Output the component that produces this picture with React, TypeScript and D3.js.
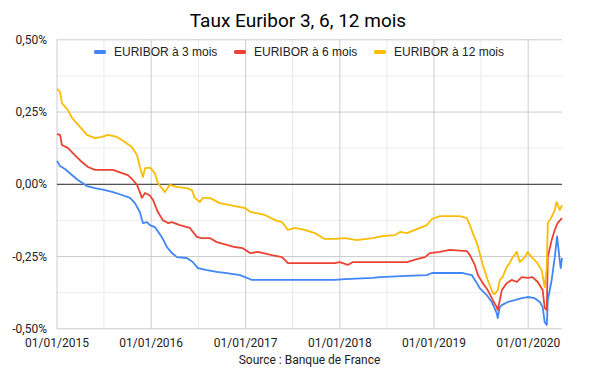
import React from "react";
import * as d3 from "d3";

// Euribor rates (%), [date, value]
const euribor3m: [string, number][] = [
  ["2015-01-01", 0.081], ["2015-01-13", 0.063], ["2015-02-01", 0.053], ["2015-02-28", 0.032],
  ["2015-03-23", 0.015], ["2015-04-27", -0.006], ["2015-05-28", -0.013], ["2015-07-06", -0.02],
  ["2015-08-06", -0.027], ["2015-09-10", -0.037], ["2015-10-11", -0.047], ["2015-10-30", -0.065],
  ["2015-11-18", -0.096], ["2015-11-30", -0.134], ["2015-12-16", -0.131], ["2015-12-27", -0.141],
  ["2016-01-15", -0.148], ["2016-02-11", -0.182], ["2016-03-02", -0.217], ["2016-03-21", -0.238],
  ["2016-04-10", -0.252], ["2016-05-18", -0.255], ["2016-06-10", -0.269], ["2016-06-30", -0.29],
  ["2016-08-04", -0.297], ["2016-09-11", -0.303], ["2016-10-20", -0.307], ["2016-12-10", -0.314],
  ["2016-12-30", -0.321], ["2017-01-26", -0.331], ["2017-04-25", -0.331], ["2017-08-18", -0.331],
  ["2017-12-13", -0.331], ["2018-01-21", -0.328], ["2018-05-09", -0.324], ["2018-06-05", -0.321],
  ["2018-09-18", -0.317], ["2018-12-04", -0.314], ["2018-12-24", -0.307], ["2019-01-23", -0.307],
  ["2019-04-23", -0.307], ["2019-05-27", -0.314], ["2019-06-16", -0.342], ["2019-06-27", -0.359],
  ["2019-07-24", -0.383], ["2019-08-13", -0.407], ["2019-09-01", -0.446], ["2019-09-05", -0.463],
  ["2019-09-13", -0.425], ["2019-09-21", -0.418], ["2019-10-14", -0.407], ["2019-11-10", -0.401],
  ["2019-12-07", -0.394], ["2019-12-30", -0.39], ["2020-01-26", -0.394], ["2020-02-15", -0.407],
  ["2020-02-26", -0.425], ["2020-03-05", -0.477], ["2020-03-13", -0.487], ["2020-03-17", -0.401],
  ["2020-04-01", -0.331], ["2020-04-13", -0.252], ["2020-04-22", -0.18], ["2020-05-02", -0.262],
  ["2020-05-06", -0.29], ["2020-05-11", -0.255],
];

const euribor6m: [string, number][] = [
  ["2015-01-01", 0.174], ["2015-01-13", 0.171], ["2015-01-20", 0.136], ["2015-02-12", 0.126],
  ["2015-03-11", 0.101], ["2015-04-08", 0.077], ["2015-05-01", 0.06], ["2015-05-28", 0.05],
  ["2015-08-06", 0.05], ["2015-09-10", 0.039], ["2015-10-03", 0.032], ["2015-10-22", 0.015],
  ["2015-11-07", -0.002], ["2015-11-18", -0.027], ["2015-11-26", -0.047], ["2015-12-08", -0.03],
  ["2015-12-27", -0.039], ["2016-01-08", -0.054], ["2016-01-27", -0.096], ["2016-02-15", -0.124],
  ["2016-03-06", -0.134], ["2016-03-21", -0.131], ["2016-04-21", -0.141], ["2016-05-30", -0.151],
  ["2016-06-26", -0.182], ["2016-07-15", -0.186], ["2016-08-15", -0.186], ["2016-09-11", -0.2],
  ["2016-10-20", -0.21], ["2016-11-20", -0.217], ["2016-12-21", -0.221], ["2017-01-18", -0.238],
  ["2017-02-18", -0.234], ["2017-04-13", -0.245], ["2017-05-22", -0.252], ["2017-06-14", -0.273],
  ["2017-12-13", -0.273], ["2018-01-01", -0.269], ["2018-02-01", -0.279], ["2018-02-21", -0.269],
  ["2018-09-18", -0.269], ["2018-10-26", -0.259], ["2018-11-27", -0.252], ["2018-12-16", -0.238],
  ["2019-01-23", -0.234], ["2019-03-03", -0.227], ["2019-05-08", -0.231], ["2019-05-20", -0.245],
  ["2019-06-08", -0.279], ["2019-06-20", -0.314], ["2019-07-09", -0.342], ["2019-07-28", -0.366],
  ["2019-08-17", -0.401], ["2019-09-01", -0.425], ["2019-09-05", -0.435], ["2019-09-13", -0.401],
  ["2019-09-21", -0.366], ["2019-10-10", -0.342], ["2019-10-29", -0.331], ["2019-11-18", -0.338],
  ["2019-12-07", -0.321], ["2019-12-30", -0.324], ["2020-01-18", -0.321], ["2020-02-07", -0.338],
  ["2020-02-26", -0.366], ["2020-03-05", -0.428], ["2020-03-13", -0.435], ["2020-03-17", -0.252],
  ["2020-04-01", -0.193], ["2020-04-13", -0.158], ["2020-04-24", -0.134], ["2020-05-11", -0.117],
];

const euribor12m: [string, number][] = [
  ["2015-01-01", 0.33], ["2015-01-13", 0.32], ["2015-01-20", 0.281], ["2015-02-12", 0.257],
  ["2015-02-28", 0.23], ["2015-03-31", 0.199], ["2015-04-27", 0.171], ["2015-05-28", 0.16],
  ["2015-06-24", 0.164], ["2015-07-18", 0.171], ["2015-08-21", 0.164], ["2015-09-21", 0.146],
  ["2015-10-18", 0.129], ["2015-11-07", 0.101], ["2015-11-18", 0.06], ["2015-11-30", 0.025],
  ["2015-12-08", 0.056], ["2015-12-27", 0.058], ["2016-01-15", 0.039], ["2016-01-27", 0.005],
  ["2016-02-23", -0.027], ["2016-03-13", -0.002], ["2016-04-10", -0.009], ["2016-05-18", -0.013],
  ["2016-06-07", -0.02], ["2016-06-18", -0.047], ["2016-07-08", -0.061], ["2016-07-19", -0.047],
  ["2016-08-15", -0.047], ["2016-09-23", -0.065], ["2016-11-01", -0.072], ["2016-12-10", -0.079],
  ["2016-12-30", -0.082], ["2017-01-18", -0.095], ["2017-02-06", -0.099], ["2017-03-17", -0.106],
  ["2017-04-25", -0.124], ["2017-05-22", -0.131], ["2017-06-14", -0.158], ["2017-07-11", -0.151],
  ["2017-08-18", -0.158], ["2017-09-26", -0.169], ["2017-11-04", -0.189], ["2017-12-13", -0.189],
  ["2018-01-21", -0.186], ["2018-03-08", -0.193], ["2018-05-09", -0.186], ["2018-06-17", -0.179],
  ["2018-08-02", -0.176], ["2018-08-22", -0.165], ["2018-09-18", -0.169], ["2018-10-07", -0.162],
  ["2018-11-07", -0.151], ["2018-12-04", -0.141], ["2018-12-24", -0.12], ["2019-01-23", -0.11],
  ["2019-04-11", -0.11], ["2019-05-08", -0.117], ["2019-05-20", -0.141], ["2019-05-31", -0.169],
  ["2019-06-16", -0.203], ["2019-06-27", -0.238], ["2019-07-09", -0.279], ["2019-07-28", -0.331],
  ["2019-08-17", -0.376], ["2019-08-24", -0.38], ["2019-09-05", -0.366], ["2019-09-13", -0.331],
  ["2019-09-24", -0.321], ["2019-10-10", -0.286], ["2019-10-21", -0.273], ["2019-11-02", -0.252],
  ["2019-11-18", -0.234], ["2019-11-29", -0.269], ["2019-12-19", -0.252], ["2019-12-30", -0.234],
  ["2020-01-14", -0.252], ["2020-02-03", -0.269], ["2020-02-22", -0.297], ["2020-03-05", -0.356],
  ["2020-03-13", -0.286], ["2020-03-17", -0.134], ["2020-04-01", -0.113], ["2020-04-13", -0.089],
  ["2020-04-20", -0.061], ["2020-05-02", -0.089], ["2020-05-11", -0.072],
];

const seriesNames = ["EURIBOR à 3 mois", "EURIBOR à 6 mois", "EURIBOR à 12 mois"];
const seriesColors = ["#4285f4", "#ea4335", "#fbbc04"];
const yTicks = [0.5, 0.25, 0, -0.25, -0.5];
const xTickYears = [2015, 2016, 2017, 2018, 2019, 2020];

const W = 600;
const H = 371;
const margin = { left: 57, right: 38, top: 40, bottom: 42 };

const parse = d3.timeParse("%Y-%m-%d");
const fmtTick = d3.timeFormat("%d/%m/%Y");
const fmtPct = (v: number) => (v < 0 ? "-" : "") + Math.abs(v).toFixed(2).replace(".", ",") + "%";

export default function App() {
  const x = d3
    .scaleTime()
    .domain([new Date(2015, 0, 1), parse("2020-05-11")!])
    .range([margin.left, W - margin.right]);
  const y = d3.scaleLinear().domain([-0.5, 0.5]).range([H - margin.bottom - 0.2, margin.top - 0.2]);

  const line = d3
    .line<[string, number]>()
    .x((d) => x(parse(d[0])!))
    .y((d) => y(d[1]));

  const allSeries = [euribor3m, euribor6m, euribor12m];
  const minorY = d3.range(-0.375, 0.5, 0.25);
  const years = xTickYears.map((yr) => new Date(yr, 0, 1));
  const minorX = xTickYears.map((yr) => new Date(yr, 6, 2)).filter((d) => x(d) < W - margin.right);

  const legendX = [94, 234, 374];

  return (
    <svg width={W} height={H} style={{ position: "absolute", left: 0, top: 0 }}>
      <rect width={W} height={H} fill="#fff" />
      <text x={298} y={27} textAnchor="middle" fontFamily="Roboto" fontSize={19} fill="#000">
        Taux Euribor 3, 6, 12 mois
      </text>

      {/* grid */}
      {minorY.map((v) => (
        <line key={"my" + v} x1={margin.left} x2={W - margin.right} y1={y(v)} y2={y(v)} stroke="#ebebeb" />
      ))}
      {minorX.map((d, i) => (
        <line key={"mx" + i} x1={x(d)} x2={x(d)} y1={y(0.5)} y2={y(-0.5)} stroke="#ebebeb" />
      ))}
      {yTicks.map((v) => (
        <line key={"y" + v} x1={margin.left} x2={W - margin.right} y1={y(v)} y2={y(v)} stroke="#cccccc" />
      ))}
      {years.map((d, i) => (
        <line key={"x" + i} x1={x(d)} x2={x(d)} y1={y(0.5)} y2={y(-0.5)} stroke="#cccccc" />
      ))}
      <line x1={margin.left} x2={W - margin.right} y1={y(0)} y2={y(0)} stroke="#333" />

      {/* legend */}
      {seriesNames.map((name, i) => (
        <g key={name}>
          <rect x={legendX[i]} y={50} width={12} height={4} rx={1.5} fill={seriesColors[i]} />
          <text x={legendX[i] + 20} y={56} fontFamily="Liberation Sans, Arial" fontSize={12} fill="#222">
            {name}
          </text>
        </g>
      ))}

      {/* series */}
      {allSeries.map((s, i) => (
        <path key={i} d={line(s) || ""} fill="none" stroke={seriesColors[i]} strokeWidth={1.8} strokeLinejoin="round" />
      ))}

      {/* y labels */}
      {yTicks.map((v) => (
        <text key={"yl" + v} x={47} y={y(v) + 4} textAnchor="end" fontFamily="Roboto" fontSize={12} fill="#222">
          {fmtPct(v)}
        </text>
      ))}
      {/* x labels */}
      {years.map((d, i) => (
        <text key={"xl" + i} x={x(d)} y={347} textAnchor="middle" fontFamily="Roboto" fontSize={12} fill="#222">
          {fmtTick(d)}
        </text>
      ))}
      <text x={(margin.left + W - margin.right) / 2} y={364} textAnchor="middle" fontFamily="Roboto" fontSize={12} fill="#222">
        Source : Banque de France
      </text>
    </svg>
  );
}
